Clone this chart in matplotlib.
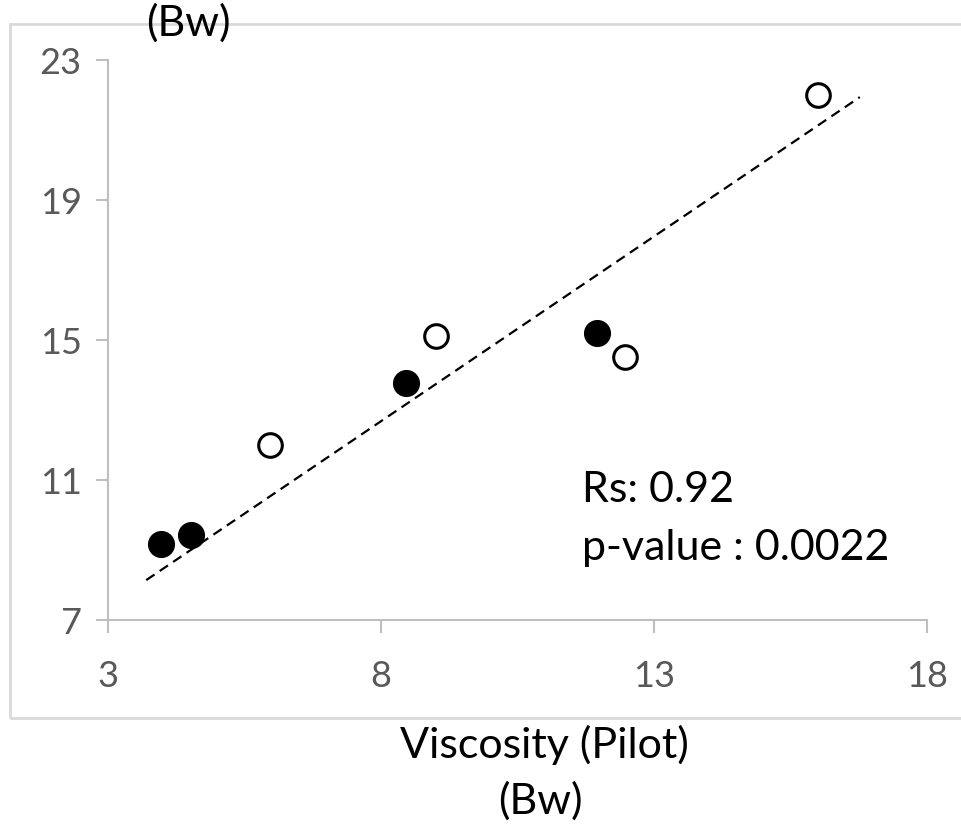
import matplotlib.pyplot as plt
from matplotlib.patches import Rectangle

# data
open_x = [5.97, 9.0, 12.47, 16.0]
open_y = [12.0, 15.11, 14.51, 22.0]
filled_x = [3.97, 4.52, 8.46, 11.96]
filled_y = [9.17, 9.43, 13.77, 15.2]
trend_x = [3.7, 16.77]
trend_y = [8.14, 21.94]
x_ticks = [3, 8, 13, 18]
y_ticks = [7, 11, 15, 19, 23]

plt.rcParams['font.family'] = ['Lato', 'DejaVu Sans']

fig = plt.figure(figsize=(9.62, 8.3), dpi=100)
ax = fig.add_axes([0.1123, 0.253, 0.8513, 0.6747])

# outer chart border
fig.patches.append(Rectangle((10 / 962, 1 - 718 / 830), 1.1, (718 - 24) / 830,
                             transform=fig.transFigure, fill=False,
                             edgecolor='#d9d9d9', linewidth=2, zorder=0))

ax.plot(trend_x, trend_y, color='black', linestyle=(0, (4.5, 2.8)), linewidth=1.6)
ax.plot(open_x, open_y, 'o', markersize=17, markerfacecolor='white',
        markeredgecolor='black', markeredgewidth=2.2, linestyle='none')
ax.plot(filled_x, filled_y, 'o', markersize=18.5, markerfacecolor='black',
        markeredgecolor='black', linestyle='none')

ax.set_xlim(3, 18)
ax.set_ylim(7, 23)
ax.set_xticks(x_ticks)
ax.set_yticks(y_ticks)

for s in ['top', 'right']:
    ax.spines[s].set_visible(False)
for s in ['left', 'bottom']:
    ax.spines[s].set_color('#bfbfbf')
    ax.spines[s].set_linewidth(1.5)
ax.tick_params(axis='both', colors='#bfbfbf', width=1.5, length=9,
               labelcolor='#595959', labelsize=26, pad=10)
ax.tick_params(axis='x', pad=20)

ax.text(11.68, 10.71, 'Rs: 0.92', fontsize=31, ha='left', va='center')
ax.text(11.68, 9.06, 'p-value : 0.0022', fontsize=31, ha='left', va='center')

fig.text(544 / 962, 1 - 745 / 830, 'Viscosity (Pilot)', fontsize=31,
         ha='center', va='center')
fig.text(540 / 962, 1 - 801 / 830, '(Bw)', fontsize=31, ha='center', va='center')
fig.text(188 / 962, 1 - 23 / 830, '(Bw)', fontsize=31, ha='center', va='center')

fig.savefig('out.png', dpi=100)
